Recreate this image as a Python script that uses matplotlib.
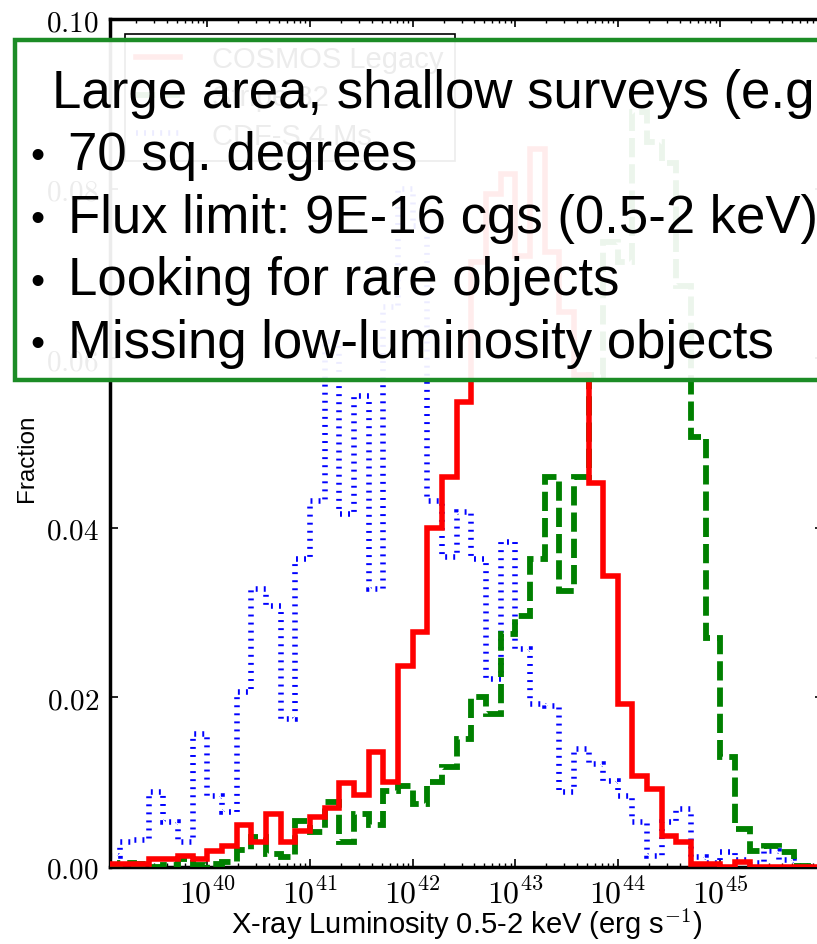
import matplotlib
matplotlib.use("Agg")
import numpy as np
import matplotlib.pyplot as plt
from matplotlib.ticker import FixedLocator, FuncFormatter, LogLocator, NullFormatter
from matplotlib.patches import Rectangle

plt.rcParams["font.family"] = ["Liberation Sans", "DejaVu Sans"]
plt.rcParams["mathtext.fontset"] = "cm"

# log10 L bin edges (49 bins between 1e39 and 1e46)
log_edges = np.linspace(39, 46, 50)

# fraction per bin
cosmos = [0.0004, 0.0004, 0.0004, 0.0009, 0.0009, 0.0013, 0.0009, 0.0019, 0.0025, 0.0050,
          0.0030, 0.0062, 0.0030, 0.0043, 0.0059, 0.0070, 0.0099, 0.0085, 0.0136, 0.0100,
          0.0237, 0.0277, 0.0400, 0.0460, 0.0548, 0.0713, 0.0794, 0.0817, 0.0720, 0.0847,
          0.0725, 0.0655, 0.0580, 0.0453, 0.0343, 0.0192, 0.0107, 0.0092, 0.0037, 0.0030,
          0.0004, 0.0004, 0.0000, 0.0006, 0.0000, 0.0000, 0.0000, 0.0000, 0.0000]
stripe82 = [0.0000, 0.0005, 0.0003, 0.0000, 0.0002, 0.0009, 0.0002, 0.0004, 0.0006, 0.0020,
            0.0035, 0.0015, 0.0012, 0.0054, 0.0041, 0.0077, 0.0030, 0.0063, 0.0050, 0.0090,
            0.0096, 0.0074, 0.0100, 0.0118, 0.0151, 0.0200, 0.0180, 0.0275, 0.0296, 0.0363,
            0.0460, 0.0326, 0.0460, 0.0580, 0.0737, 0.0713, 0.0890, 0.0855, 0.0830, 0.0685,
            0.0507, 0.0270, 0.0130, 0.0045, 0.0019, 0.0025, 0.0018, 0.0001, 0.0000]
cdfs = [0.0013, 0.0030, 0.0032, 0.0088, 0.0053, 0.0030, 0.0157, 0.0084, 0.0065, 0.0206,
        0.0328, 0.0308, 0.0175, 0.0363, 0.0432, 0.0620, 0.0416, 0.0555, 0.0328, 0.0660,
        0.0800, 0.0756, 0.0432, 0.0366, 0.0419, 0.0363, 0.0222, 0.0383, 0.0257, 0.0192,
        0.0190, 0.0088, 0.0139, 0.0121, 0.0101, 0.0084, 0.0053, 0.0013, 0.0053, 0.0068,
        0.0012, 0.0005, 0.0018, 0.0008, 0.0005, 0.0019, 0.0008, 0.0000, 0.0000]

yticks = [0.00, 0.02, 0.04, 0.06, 0.08, 0.10]
xdecades = [40, 41, 42, 43, 44, 45]

box_lines = ["Large area, shallow surveys (e.g. Stripe 82X)",
             "70 sq. degrees",
             "Flux limit: 9E-16 cgs (0.5-2 keV)",
             "Looking for rare objects",
             "Missing low-luminosity objects"]

W, H = 817, 945
fig = plt.figure(figsize=(W / 100, H / 100), dpi=100)
ax = fig.add_axes([110 / W, 77 / H, 713 / W, 848 / H])

edges = 10.0 ** log_edges
h_red = ax.stairs(cosmos, edges, color="red", lw=4, zorder=4, label="COSMOS Legacy")
h_grn = ax.stairs(stripe82, edges, color="green", lw=4.2, ls=(0, (3.3, 1.2)),
                  zorder=3, label="Stripe 82")
h_blu = ax.stairs(cdfs, edges, color="blue", lw=4, ls=(0, (0.35, 1.1)),
                  zorder=2, label="CDF-S 4 Ms")

ax.set_xscale("log")
ax.set_xlim(10.0 ** 39.05, 10.0 ** 46)
ax.set_ylim(0, 0.10)

ax.xaxis.set_major_locator(FixedLocator([10.0 ** d for d in xdecades]))
ax.xaxis.set_major_formatter(FuncFormatter(lambda v, p: r"$10^{%d}$" % round(np.log10(v))))
ax.xaxis.set_minor_locator(LogLocator(base=10, subs=np.arange(2, 10), numticks=20))
ax.xaxis.set_minor_formatter(NullFormatter())
ax.yaxis.set_major_locator(FixedLocator(yticks))
ax.yaxis.set_major_formatter(FuncFormatter(lambda v, p: r"$%.2f$" % v))

ax.tick_params(which="both", direction="in", top=True, right=True)
ax.tick_params(which="major", length=6, width=1.2, pad=8)
ax.tick_params(axis="y", labelsize=21)
ax.tick_params(axis="x", labelsize=23)
ax.tick_params(which="minor", length=3, width=1.0)
for s in ax.spines.values():
    s.set_linewidth(2.5)

ax.set_xlabel(r"X-ray Luminosity 0.5-2 keV (erg s$^{-1}$)", fontsize=21)
ax.xaxis.set_label_coords(0.5, -0.046)
ax.set_ylabel("Fraction", fontsize=17.5)
ax.yaxis.set_label_coords(-0.101, 0.483)

leg = ax.legend(handles=[h_red, h_grn, h_blu], loc="upper left", fontsize=21,
                fancybox=False, edgecolor="black", framealpha=1,
                handlelength=1.5, handletextpad=1.1, labelspacing=0.35,
                borderaxespad=0.5)
leg.get_frame().set_linewidth(1.2)

# overlay text box
box = Rectangle((15 / W, 1 - 381 / H), 830 / W, 340 / H, transform=fig.transFigure,
                facecolor=(1, 1, 1, 0.93), edgecolor="#1c8c26", lw=3.2, zorder=5)
fig.add_artist(box)

baselines = [108, 170.5, 233, 295.5, 358]
fig.text(52 / W, 1 - baselines[0] / H, box_lines[0], fontsize=38, va="baseline", zorder=6)
for txt, b in zip(box_lines[1:], baselines[1:]):
    fig.text(37 / W, 1 - (b - 13) / H, "\u2022", fontsize=29, ha="center", va="center",
             zorder=6)
    fig.text(68 / W, 1 - b / H, txt, fontsize=38, va="baseline", zorder=6)

fig.savefig("out.png", dpi=100)
